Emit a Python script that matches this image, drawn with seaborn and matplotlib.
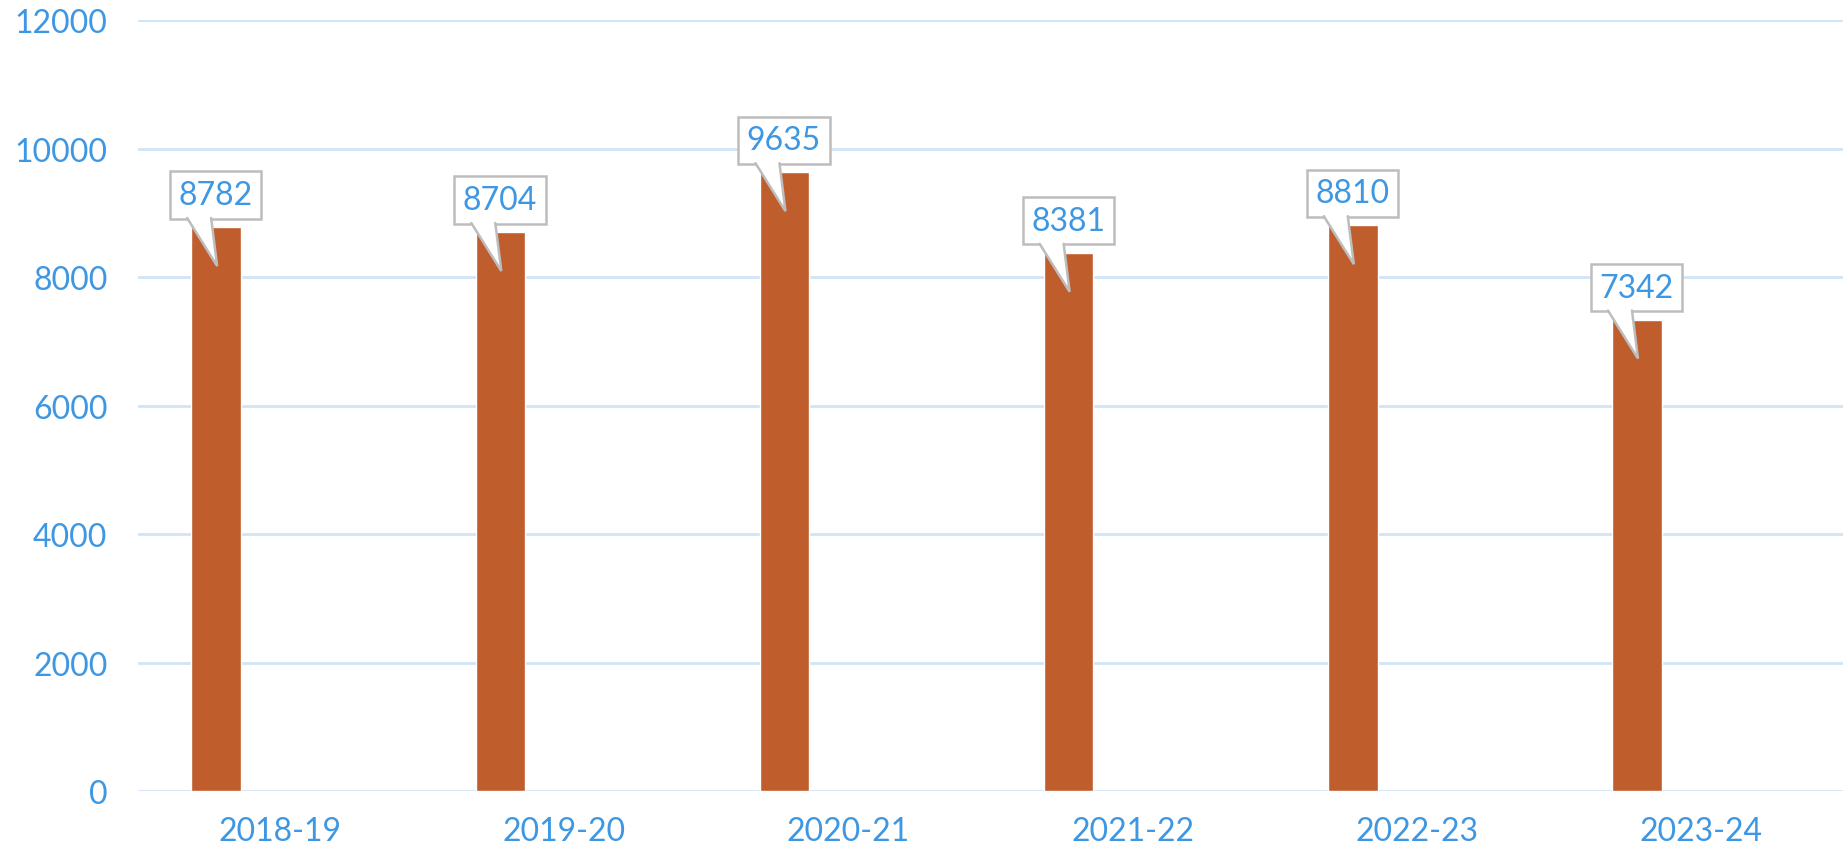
import pandas as pd
import matplotlib.pyplot as plt
import matplotlib.transforms as mtransforms
from matplotlib.patches import Polygon
from matplotlib.lines import Line2D
import seaborn as sns

# Chart data
years = ["2018-19", "2019-20", "2020-21", "2021-22", "2022-23", "2023-24"]
counts = [8782, 8704, 9635, 8381, 8810, 7342]
y_ticks = [0, 2000, 4000, 6000, 8000, 10000, 12000]

df = pd.DataFrame({"Year": years, "Count": counts})

bar_color = "#C05D2C"
text_blue = "#3D97E3"
grid_blue = "#D0E5F7"
box_grey = "#BDBDBD"

sns.set_style("white")
plt.rcParams['font.family'] = ['Lato', 'DejaVu Sans']

fig = plt.figure(figsize=(18.49, 8.54), dpi=100)
ax = fig.add_axes([138 / 1849, 61.6 / 854, 1705 / 1849, 771.2 / 854])

sns.barplot(data=df, x="Year", y="Count", color=bar_color, saturation=1,
            width=0.174, ax=ax)

# bars sit left of the category centre
for p in ax.patches:
    p.set_x(p.get_x() - 0.225)

ax.set_xlim(-0.5, len(years) - 0.5)
ax.set_ylim(0, 12000)
ax.set_yticks(y_ticks)
ax.yaxis.grid(True, color=grid_blue, linewidth=2)
ax.set_axisbelow(True)
for s in ax.spines.values():
    s.set_visible(False)
ax.set_xlabel("")
ax.set_ylabel("")
ax.tick_params(axis="y", length=0, pad=22, labelsize=23, labelcolor=text_blue)
ax.tick_params(axis="x", length=0, pad=18, labelsize=23, labelcolor=text_blue)

# callout labels, drawn in inches relative to the top centre of each bar
for p, v in zip(ax.patches, counts):
    cx = p.get_x() + p.get_width() / 2
    tr = fig.dpi_scale_trans + mtransforms.ScaledTranslation(cx, v, ax.transData)
    ax.text(-0.005, 0.32, str(v), transform=tr, ha="center", va="center",
            fontsize=23, color=text_blue, zorder=5,
            bbox=dict(boxstyle="square,pad=0.27", fc="white", ec=box_grey, lw=1.8))
    # tail: white fill hides the box edge at its base, grey lines for the sides
    ax.add_patch(Polygon([(-0.285, 0.11), (-0.285, 0.085), (0.01, -0.39),
                          (-0.055, 0.085), (-0.055, 0.11)],
                         closed=True, transform=tr, fc="white", ec="none", zorder=6))
    ax.add_line(Line2D([-0.29, 0.01, -0.05], [0.09, -0.39, 0.09], transform=tr,
                       color=box_grey, lw=1.8, zorder=7, solid_joinstyle="miter"))

plt.savefig("out.png", dpi=100)
